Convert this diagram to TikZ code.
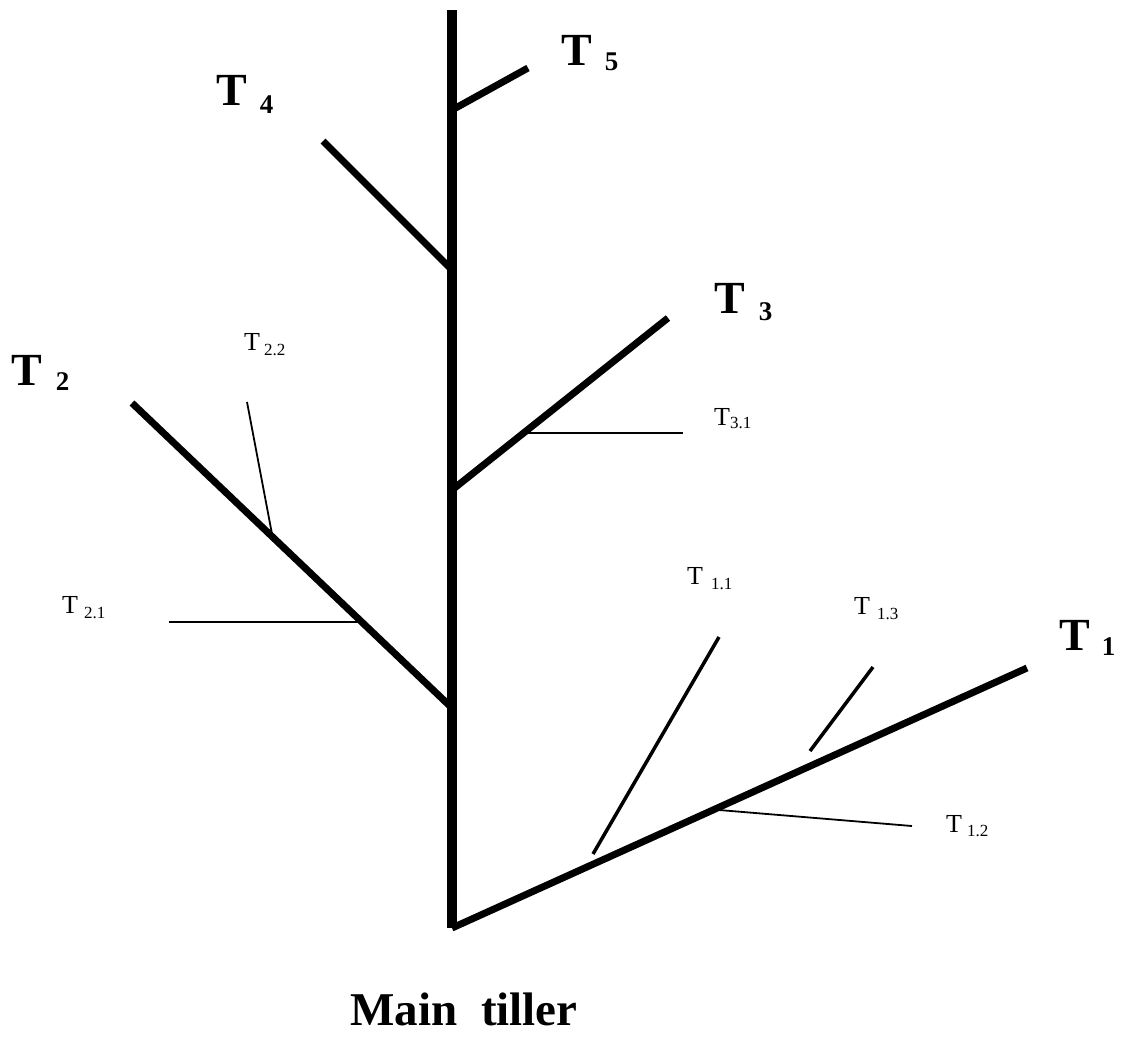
\documentclass[tikz,border=0pt]{standalone}
\usepackage{fontspec}
\setmainfont{Liberation Serif}
\newcommand\bigsub{\fontsize{27}{27}\selectfont\bfseries}
\newcommand\smallsub{\fontsize{17}{17}\selectfont}
\newcommand\tillerlab[4]{#1\hspace{#3pt}\raisebox{-#4pt}{#2}}
\tikzset{
  stem/.style={line width=10pt},
  branch/.style={line width=7pt},
  twig/.style={line width=3.5pt},
  fine/.style={line width=1.8pt},
  biglab/.style={inner sep=0pt, anchor=base west, font=\fontsize{46}{46}\selectfont\bfseries},
  smalllab/.style={inner sep=0pt, anchor=base west, font=\fontsize{26}{26}\selectfont},
  titlelab/.style={inner sep=0pt, anchor=base, font=\fontsize{47}{47}\selectfont\bfseries}
}
\begin{document}
\begin{tikzpicture}[x=1pt,y=-1pt]
\useasboundingbox (0,0) rectangle (1124,1037);
% main stem
\coordinate (top) at (452,10);
\coordinate (base) at (452,928);
\draw[stem] (top) -- (base);
% junctions on the stem
\coordinate (j5) at (452,110);
\coordinate (j4) at (452,270);
\coordinate (j3) at (452,490);
\coordinate (j2) at (452,708);
% primary tiller ends
\coordinate (e5) at (528,68);
\coordinate (e4) at (323,141);
\coordinate (e3) at (668,318);
\coordinate (e2) at (132,403);
\coordinate (e1) at (1027,668);
\draw[branch] (j5) -- (e5);
\draw[branch] (j4) -- (e4);
\draw[branch] (j3) -- (e3);
\draw[branch] (j2) -- (e2);
\draw[branch] (base) -- (e1);
% secondary tillers
\coordinate (j31) at (527,433);
\coordinate (e31) at (683,433);
\draw[fine] (j31) -- (e31);
\coordinate (j22) at (272,534);
\coordinate (e22) at (247,402);
\draw[fine] (j22) -- (e22);
\coordinate (j21) at (358,622);
\coordinate (e21) at (169,622);
\draw[fine] (j21) -- (e21);
\coordinate (j11) at (593,854);
\coordinate (e11) at (719,637);
\draw[twig] (j11) -- (e11);
\coordinate (j13) at (810,751);
\coordinate (e13) at (873,667);
\draw[twig] (j13) -- (e13);
\coordinate (j12) at (719,810);
\coordinate (e12) at (912,826);
\draw[fine] (j12) -- (e12);
% primary labels
\node[biglab] (l5) at (561,65) {\tillerlab{T}{\bigsub 5}{13}{5}};
\node[biglab] (l4) at (216,105) {\tillerlab{T}{\bigsub 4}{13}{8}};
\node[biglab] (l3) at (714,313) {\tillerlab{T}{\bigsub 3}{14}{7}};
\node[biglab] (l2) at (11,385) {\tillerlab{T}{\bigsub 2}{14}{5}};
\node[biglab] (l1) at (1059,650) {\tillerlab{T}{\bigsub 1}{12}{5}};
% secondary labels
\node[smalllab] (l22) at (244,350) {\tillerlab{T}{\smallsub 2.2}{4}{5}};
\node[smalllab] (l21) at (62,613) {\tillerlab{T}{\smallsub 2.1}{6}{5}};
\node[smalllab] (l31) at (714,425) {\tillerlab{T}{\smallsub 3.1}{0}{3}};
\node[smalllab] (l11) at (687,584) {\tillerlab{T}{\smallsub 1.1}{8}{5}};
\node[smalllab] (l13) at (854,614) {\tillerlab{T}{\smallsub 1.3}{7}{5}};
\node[smalllab] (l12) at (946,832) {\tillerlab{T}{\smallsub 1.2}{5}{4}};
% title
\node[titlelab] (title) at (464,1025) {Main\hspace{0.25em} tiller};
\end{tikzpicture}
\end{document}
